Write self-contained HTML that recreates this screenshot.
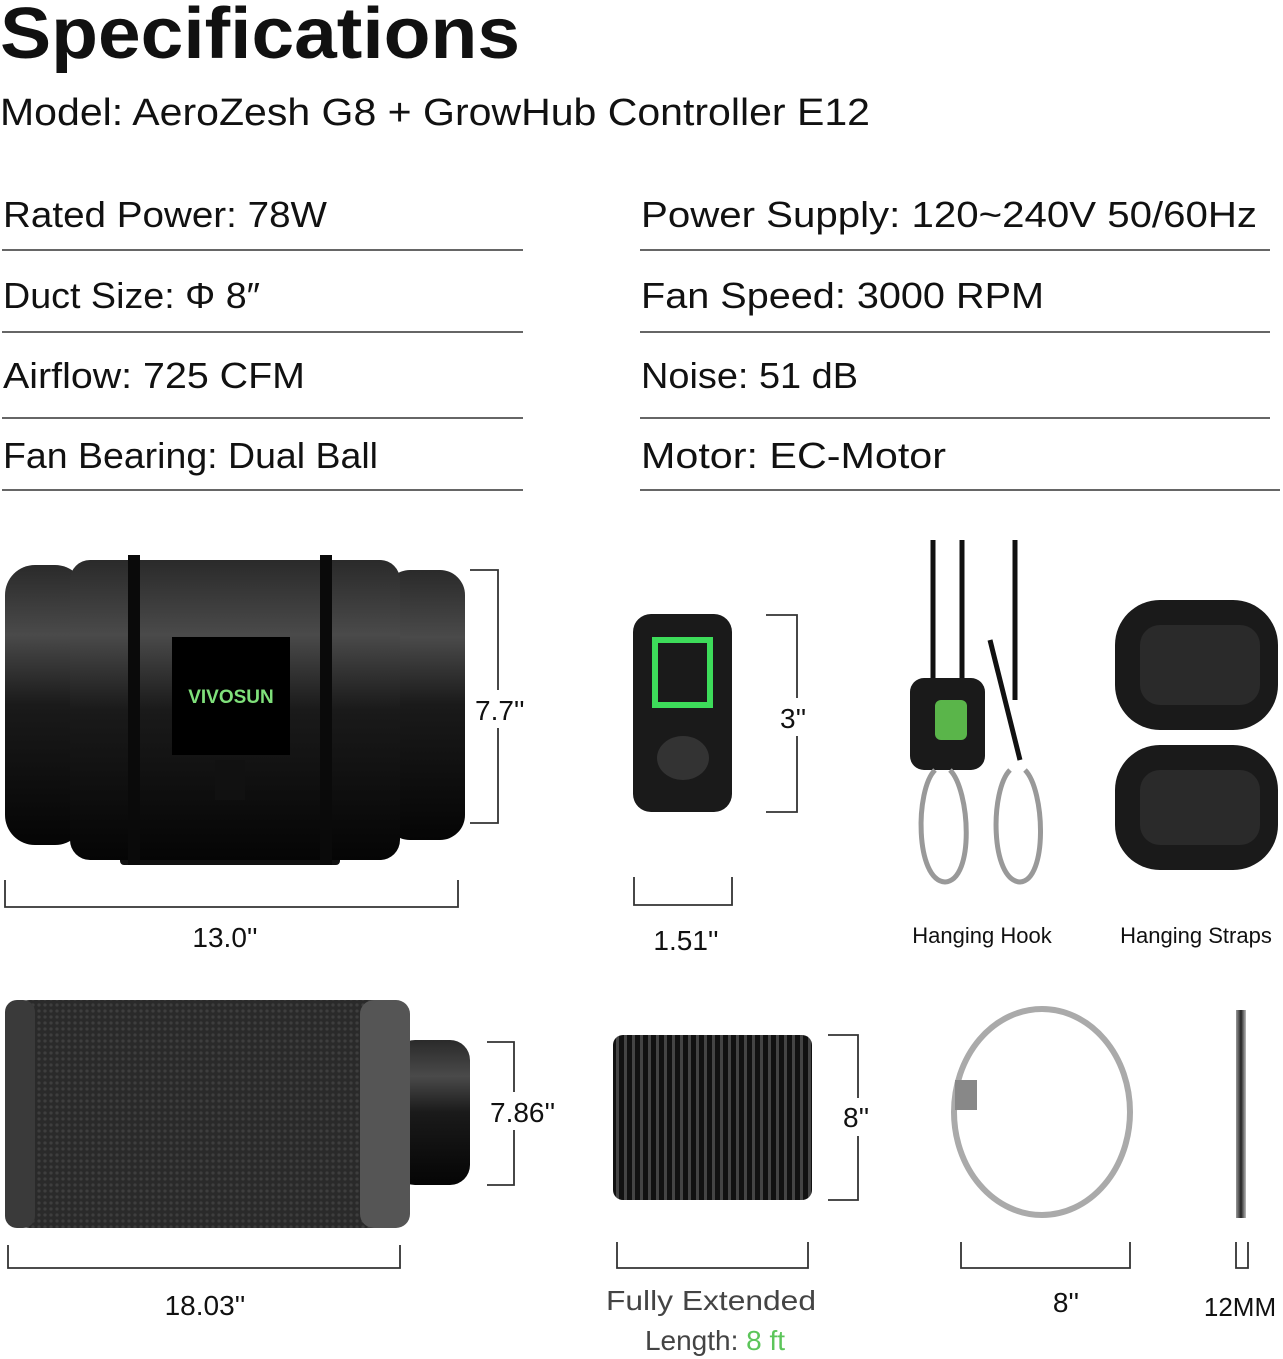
<!DOCTYPE html>
<html><head><meta charset="utf-8"><style>
html,body{margin:0;padding:0;background:#fff;width:1283px;height:1359px;overflow:hidden}
svg{display:block}
text{font-family:"Liberation Sans",sans-serif;fill:#111}
</style></head><body>
<svg width="1283" height="1359" viewBox="0 0 1283 1359">
<defs>
<linearGradient id="cyl" x1="0" y1="0" x2="0" y2="1">
<stop offset="0" stop-color="#2a2a2a"/><stop offset="0.25" stop-color="#4a4a4a"/><stop offset="0.5" stop-color="#1a1a1a"/><stop offset="1" stop-color="#050505"/></linearGradient>
<linearGradient id="ring" x1="0" y1="0" x2="1" y2="0">
<stop offset="0" stop-color="#999"/><stop offset="0.5" stop-color="#222"/><stop offset="1" stop-color="#bbb"/></linearGradient>
<pattern id="rib" width="8" height="10" patternUnits="userSpaceOnUse"><rect width="8" height="10" fill="#111"/><rect width="3" height="10" fill="#444"/></pattern>
<pattern id="mesh" width="6" height="6" patternUnits="userSpaceOnUse"><rect width="6" height="6" fill="#2a2a2a"/><circle cx="3" cy="3" r="1.6" fill="#3e3e3e"/></pattern>
</defs>
<text x="0" y="58" font-size="72" font-weight="bold" textLength="520" lengthAdjust="spacingAndGlyphs">Specifications</text>
<text x="0" y="125" font-size="38" textLength="870" lengthAdjust="spacingAndGlyphs">Model: AeroZesh G8 + GrowHub Controller E12</text>
<g font-size="36">
<text x="3" y="227" textLength="324" lengthAdjust="spacingAndGlyphs">Rated Power: 78W</text>
<text x="3" y="308" textLength="257" lengthAdjust="spacingAndGlyphs">Duct Size: Φ 8″</text>
<text x="3" y="388" textLength="302" lengthAdjust="spacingAndGlyphs">Airflow: 725 CFM</text>
<text x="3" y="468" textLength="375" lengthAdjust="spacingAndGlyphs">Fan Bearing: Dual Ball</text>
<text x="641" y="227" textLength="616" lengthAdjust="spacingAndGlyphs">Power Supply: 120~240V 50/60Hz</text>
<text x="641" y="308" textLength="403" lengthAdjust="spacingAndGlyphs">Fan Speed: 3000 RPM</text>
<text x="641" y="388" textLength="217" lengthAdjust="spacingAndGlyphs">Noise: 51 dB</text>
<text x="641" y="468" textLength="305" lengthAdjust="spacingAndGlyphs">Motor: EC-Motor</text>
</g>
<g stroke="#333" stroke-width="1.5">
<line x1="2" y1="250" x2="523" y2="250"/><line x1="2" y1="332" x2="523" y2="332"/><line x1="2" y1="418" x2="523" y2="418"/><line x1="2" y1="490" x2="523" y2="490"/>
<line x1="640" y1="250" x2="1270" y2="250"/><line x1="640" y1="332" x2="1270" y2="332"/><line x1="640" y1="418" x2="1270" y2="418"/><line x1="640" y1="490" x2="1280" y2="490"/>
</g>
<!-- fan -->
<rect x="120" y="820" width="220" height="45" rx="4" fill="#111"/>
<rect x="5" y="565" width="80" height="280" rx="30" fill="url(#cyl)"/>
<rect x="385" y="570" width="80" height="270" rx="25" fill="url(#cyl)"/>
<rect x="70" y="560" width="330" height="300" rx="20" fill="url(#cyl)"/>
<rect x="128" y="555" width="12" height="310" fill="#0a0a0a"/><rect x="320" y="555" width="12" height="310" fill="#0a0a0a"/>
<rect x="172" y="637" width="118" height="118" fill="#000"/>
<text x="231" y="703" font-size="19" font-weight="bold" text-anchor="middle" style="fill:#7fe07a">VIVOSUN</text>
<rect x="215" y="760" width="30" height="40" fill="#111"/>
<g fill="none" stroke="#333" stroke-width="1.8">
<path d="M470 570H498V823H470"/><path d="M5 880V907H458V880"/>
<path d="M766 615H797V812H766"/><path d="M634 877V905H732V877"/>
<path d="M487 1042H514V1185H487"/><path d="M8 1245V1268H400V1245"/>
<path d="M828 1035H858V1200H828"/><path d="M617 1242V1268H808V1242"/>
<path d="M961 1242V1268H1130V1242"/><path d="M1236 1242V1268H1248V1242"/>
</g>
<g fill="#fff">
<rect x="474" y="690" width="52" height="38"/><rect x="778" y="698" width="34" height="38"/>
<rect x="487" y="1092" width="78" height="38"/><rect x="841" y="1098" width="36" height="38"/>
</g>
<g font-size="28">
<text x="475" y="720">7.7''</text><text x="225" y="947" text-anchor="middle">13.0''</text>
<text x="780" y="728">3''</text><text x="686" y="950" text-anchor="middle">1.51''</text>
<text x="490" y="1122">7.86''</text><text x="205" y="1315" text-anchor="middle">18.03''</text>
<text x="843" y="1127">8''</text><text x="1066" y="1312" text-anchor="middle">8''</text>
<text x="1240" y="1316" text-anchor="middle" font-size="26">12MM</text>
<text x="711" y="1310" text-anchor="middle" style="fill:#444" textLength="210" lengthAdjust="spacingAndGlyphs">Fully Extended</text>
<text x="715" y="1350" text-anchor="middle" style="fill:#444">Length: <tspan style="fill:#5cc55a">8 ft</tspan></text>
</g>
<g font-size="22">
<text x="982" y="943" text-anchor="middle">Hanging Hook</text>
<text x="1196" y="943" text-anchor="middle">Hanging Straps</text>
</g>
<!-- controller -->
<rect x="633" y="614" width="99" height="198" rx="18" fill="#1a1a1a"/>
<rect x="655" y="640" width="55" height="65" fill="none" stroke="#3ddc5a" stroke-width="6"/>
<ellipse cx="683" cy="758" rx="26" ry="22" fill="#333"/>
<!-- hooks -->
<g stroke="#111" stroke-width="5" fill="none">
<path d="M933 540V680"/><path d="M962 540V680"/><path d="M1015 540V700"/><path d="M990 640L1020 760"/>
</g>
<rect x="910" y="678" width="75" height="92" rx="14" fill="#1a1a1a"/>
<rect x="935" y="700" width="32" height="40" rx="6" fill="#5ab54a"/>
<g stroke="#999" stroke-width="5" fill="none">
<path d="M935 770C915 790 915 880 945 882C975 880 970 790 950 770"/>
<path d="M1010 770C990 790 990 880 1020 882C1048 880 1045 790 1025 770"/>
</g>
<!-- straps -->
<rect x="1115" y="600" width="163" height="130" rx="45" fill="#1a1a1a"/><rect x="1140" y="625" width="120" height="80" rx="20" fill="#2a2a2a"/>
<rect x="1115" y="745" width="163" height="125" rx="45" fill="#1a1a1a"/><rect x="1140" y="770" width="120" height="75" rx="20" fill="#2a2a2a"/>
<!-- filter -->
<rect x="395" y="1040" width="75" height="145" rx="20" fill="url(#cyl)"/>
<rect x="5" y="1000" width="405" height="228" rx="25" fill="url(#mesh)"/>
<rect x="5" y="1000" width="30" height="228" rx="12" fill="#3a3a3a"/><rect x="360" y="1000" width="50" height="228" rx="14" fill="#555"/>
<!-- duct -->
<rect x="613" y="1035" width="199" height="165" rx="10" fill="url(#rib)"/>
<!-- clamp -->
<ellipse cx="1042" cy="1112" rx="88" ry="103" fill="none" stroke="#aaa" stroke-width="6"/>
<rect x="955" y="1080" width="22" height="30" fill="#888"/>
<rect x="1236" y="1010" width="10" height="208" fill="url(#ring)"/>
</svg>
</body></html>
